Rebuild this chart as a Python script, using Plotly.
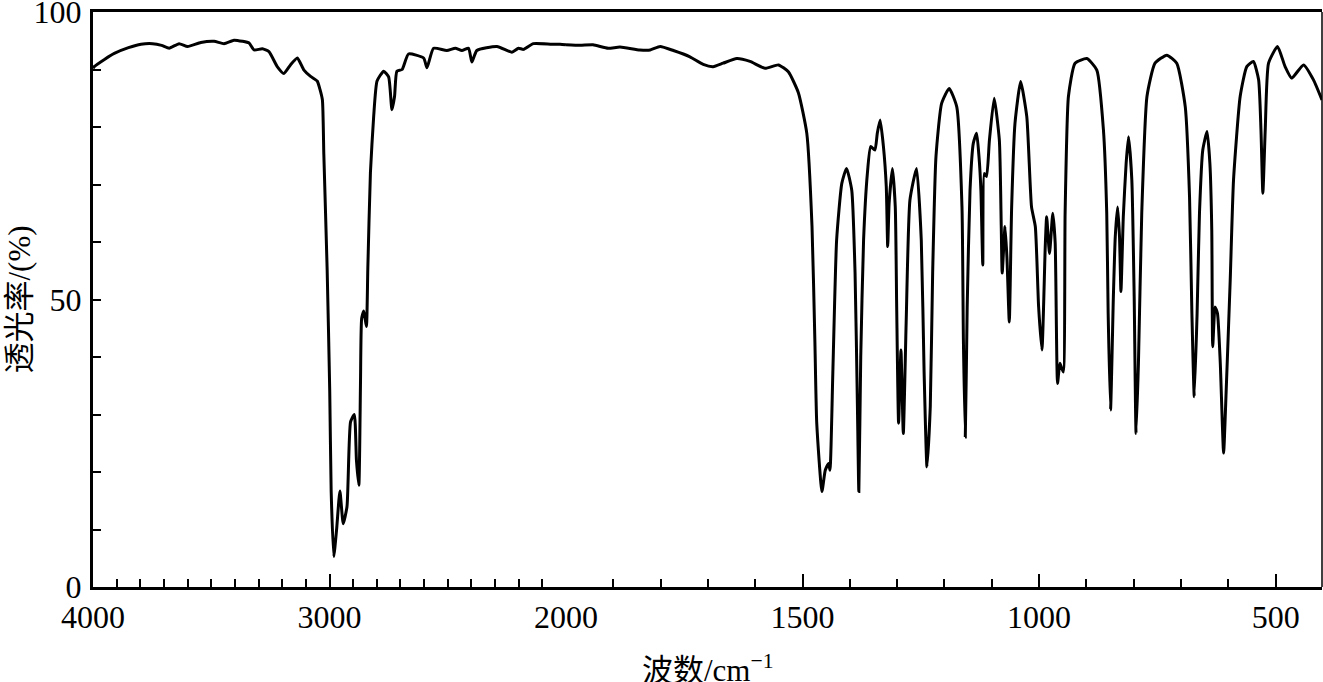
import plotly.graph_objects as go

# ---- data (wavenumber in cm^-1, transmittance in %) ----
wavenumber_high = [4000, 3995, 3950, 3910, 3850, 3797, 3748, 3710, 3678, 3636, 3600, 3544,
                   3488, 3446, 3404, 3368, 3340, 3319, 3284, 3256, 3221, 3193, 3165, 3136,
                   3108, 3080, 3052, 3040, 3030, 3024, 3010, 2999, 2993, 2982, 2970, 2956,
                   2942, 2926, 2911, 2895, 2886, 2876, 2869, 2864, 2855, 2844, 2838, 2827,
                   2813, 2799, 2771, 2750, 2736, 2725, 2715, 2693, 2666, 2602, 2588, 2560,
                   2504, 2468, 2440, 2412, 2398, 2377, 2292, 2229, 2201, 2180, 2138, 2060,
                   2025, 2000]
transmittance_high = [90.2, 90.5, 91.8, 92.8, 93.8, 94.4, 94.5, 94.2, 93.7, 94.5, 94.0, 94.7,
                      94.9, 94.5, 95.1, 94.9, 94.6, 93.4, 93.6, 93.1, 90.5, 89.3, 90.8, 92.0,
                      89.9, 88.8, 88.0, 86.5, 84.7, 75.3, 55.3, 34.0, 16.7, 5.3, 10.0, 16.7,
                      11.0, 14.0, 28.7, 30.0, 22.0, 17.7, 35.3, 46.7, 48.0, 45.3, 55.3, 72.0,
                      82.0, 88.0, 89.7, 88.7, 83.0, 85.3, 89.7, 90.0, 92.7, 92.0, 90.3, 93.7,
                      93.3, 93.7, 93.3, 93.7, 91.3, 93.3, 94.0, 93.0, 93.7, 93.5, 94.5, 94.4,
                      94.4, 94.3]

wavenumber_low = [2000, 1970, 1943, 1911, 1886, 1844, 1822, 1801, 1773, 1738, 1710, 1689,
                  1668, 1639, 1611, 1579, 1551, 1530, 1509, 1491, 1480, 1474, 1470, 1459,
                  1452, 1445, 1442, 1436, 1428, 1417, 1407, 1396, 1389, 1384, 1381, 1377,
                  1371, 1363, 1356, 1347, 1342, 1336, 1329, 1323, 1320, 1317, 1310, 1304,
                  1301, 1297, 1292, 1287, 1281, 1273, 1259, 1249, 1243, 1237, 1230, 1225,
                  1218, 1206, 1190, 1174, 1163, 1160, 1156, 1152, 1146, 1139, 1132, 1127,
                  1123, 1119, 1116, 1111, 1105, 1095, 1084, 1080, 1078, 1072, 1068, 1063,
                  1058, 1051, 1039, 1026, 1016, 1008, 1001, 994, 987, 984, 978, 971,
                  966, 961, 956, 949, 945, 938, 924, 899, 878, 864, 857, 854,
                  849, 843, 839, 834, 830, 827, 822, 816, 811, 804, 799, 795,
                  790, 783, 772, 755, 730, 709, 691, 682, 677, 672, 666, 661,
                  654, 645, 639, 635, 633, 628, 623, 617, 610, 605, 596, 589,
                  575, 561, 547, 536, 531, 527, 522, 515, 496, 480, 466, 441,
                  420, 402]
transmittance_low = [94.3, 94.2, 94.3, 93.7, 93.9, 93.4, 93.4, 94.0, 93.3, 92.2, 90.9, 90.5,
                     91.1, 91.9, 91.4, 90.2, 90.8, 89.6, 86.0, 78.9, 62.7, 43.0, 28.5, 16.6,
                     20.3, 21.5, 20.3, 37.2, 60.3, 70.2, 72.8, 69.0, 54.6, 31.4, 16.6, 40.0,
                     60.3, 71.9, 76.6, 76.0, 78.9, 81.2, 76.6, 69.6, 59.2, 66.7, 72.8, 66.1,
                     48.7, 28.5, 41.2, 26.7, 45.9, 67.3, 72.8, 60.3, 37.2, 20.9, 31.4, 54.6,
                     74.8, 84.1, 86.7, 83.5, 66.1, 43.0, 26.1, 48.7, 69.0, 77.2, 78.9, 74.8,
                     69.0, 56.0, 71.9, 71.4, 77.7, 85.0, 77.7, 62.7, 54.6, 62.7, 57.4, 46.1,
                     66.1, 80.6, 87.9, 81.8, 66.1, 62.7, 48.7, 41.2, 59.2, 64.4, 58.0, 65.0,
                     59.8, 35.4, 38.9, 37.4, 65.0, 85.3, 91.1, 91.9, 89.9, 79.5, 65.0, 47.6,
                     30.8, 50.5, 60.9, 66.1, 60.9, 51.4, 64.4, 73.7, 78.3, 70.8, 50.5, 26.7,
                     38.9, 65.0, 85.3, 91.1, 92.5, 91.1, 83.5, 67.9, 47.6, 33.1, 47.6, 65.0,
                     76.0, 79.2, 73.7, 62.1, 41.8, 48.7, 47.6, 38.9, 23.3, 33.1, 53.4, 70.8,
                     85.3, 90.5, 91.4, 88.2, 79.5, 68.5, 79.5, 91.1, 94.0, 90.5, 88.5, 90.8,
                     88.2, 84.7]

x_range_high = [4000, 2000]
x_range_low = [2000, 402]
x_ticks_high = [4000, 3000, 2000]
x_ticks_low = [1500, 1000, 500]
y_range = [0, 100]
y_ticks = [0, 50, 100]

x_title = "波数/cm<sup>−1</sup>"
y_title = "透光率/(%)"

FONT = '"Liberation Serif", "Noto Sans CJK SC", serif'
split = 473 / 1229

line_style = dict(color="black", width=3, shape="spline", smoothing=0.5)

fig = go.Figure()
fig.add_trace(go.Scatter(x=wavenumber_high, y=transmittance_high, mode="lines",
                         line=line_style, xaxis="x", yaxis="y", showlegend=False,
                         hoverinfo="skip"))
fig.add_trace(go.Scatter(x=wavenumber_low, y=transmittance_low, mode="lines",
                         line=line_style, xaxis="x2", yaxis="y", showlegend=False,
                         hoverinfo="skip"))

common_x = dict(showline=True, linecolor="black", linewidth=3, mirror=True,
                ticks="inside", ticklen=13, tickwidth=2, tickcolor="black",
                showgrid=False, zeroline=False, automargin=False,
                ticklabeloverflow="allow",
                tickfont=dict(family=FONT, size=32, color="black"),
                minor=dict(ticks="inside", dtick=100, tick0=0, ticklen=8,
                           tickwidth=2, tickcolor="black", showgrid=False),
                anchor="y")

fig.update_layout(
    width=1323, height=682,
    margin=dict(l=93, r=1, t=12, b=95, autoexpand=False),
    paper_bgcolor="white", plot_bgcolor="white",
    xaxis=dict(domain=[0, split], range=x_range_high, tickvals=x_ticks_high,
               ticktext=[str(v) for v in x_ticks_high], **common_x),
    xaxis2=dict(domain=[split, 1], range=x_range_low, tickvals=x_ticks_low,
                ticktext=[str(v) for v in x_ticks_low], **common_x),
    yaxis=dict(range=y_range, tickvals=y_ticks, ticktext=[str(v) for v in y_ticks],
               showline=True, linecolor="black", linewidth=3, mirror=False,
               ticks="inside", ticklen=8, tickwidth=2, tickcolor="black",
               showgrid=False, zeroline=False, anchor="x", automargin=False,
               ticklabelstandoff=2, ticklabeloverflow="allow",
               tickfont=dict(family=FONT, size=32, color="black"),
               minor=dict(ticks="inside", dtick=10, ticklen=8, tickwidth=2,
                          tickcolor="black", showgrid=False)),
    shapes=[dict(type="line", xref="paper", yref="paper", x0=1, x1=1, y0=0, y1=1,
                 line=dict(color="black", width=1.5))],
    annotations=[
        dict(text=x_title, xref="paper", yref="paper", x=0.5, y=-0.141,
             xanchor="center", yanchor="middle", showarrow=False,
             font=dict(family=FONT, size=31, color="black")),
        dict(text=y_title, xref="paper", yref="paper", x=-0.0594, y=0.5,
             xanchor="center", yanchor="middle", textangle=-90, showarrow=False,
             font=dict(family=FONT, size=31, color="black")),
    ],
)

fig.write_html("out.html",
               config={"displayModeBar": False},
               post_script="document.body.style.margin='0';"
                           "document.body.style.overflow='hidden';")
